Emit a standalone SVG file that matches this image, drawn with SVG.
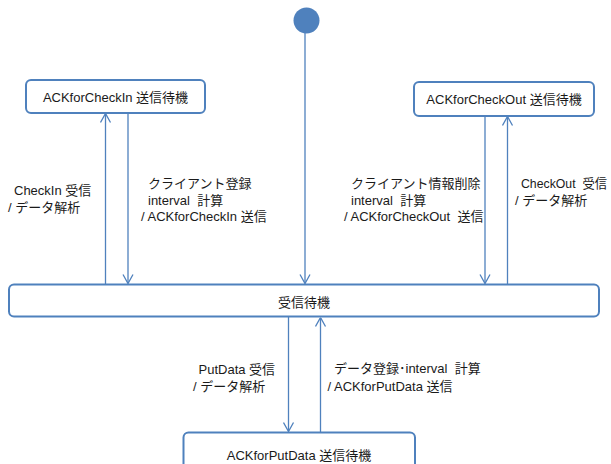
<svg xmlns="http://www.w3.org/2000/svg" width="611" height="464" viewBox="0 0 611 464">
<style>
.box{fill:#ffffff;stroke:#4f81bd;stroke-width:2}
.lbl{font-family:"Liberation Sans","Noto Sans CJK JP",sans-serif;font-size:13px;fill:#1a1a1a;white-space:pre}
.mid{text-anchor:middle}
.conn{stroke:#4f81bd;stroke-width:1.3;fill:none}
</style>
<defs>
<marker id="arr" viewBox="0 0 10 12" refX="10" refY="6" markerWidth="10" markerHeight="12" markerUnits="userSpaceOnUse" orient="auto">
<path d="M1,1 L10,6 L1,11" fill="none" stroke="#4f81bd" stroke-width="1.3"/>
</marker>
</defs>
<rect width="611" height="464" fill="#ffffff"/>
<g id="connectors">
<line class="conn" x1="305" y1="33" x2="305" y2="283.5" marker-end="url(#arr)"/>
<line class="conn" x1="105.5" y1="284" x2="105.5" y2="113.5" marker-end="url(#arr)"/>
<line class="conn" x1="128" y1="113" x2="128" y2="283.5" marker-end="url(#arr)"/>
<line class="conn" x1="485" y1="116" x2="485" y2="283.5" marker-end="url(#arr)"/>
<line class="conn" x1="507.5" y1="284" x2="507.5" y2="116.5" marker-end="url(#arr)"/>
<line class="conn" x1="288.5" y1="317" x2="288.5" y2="431.5" marker-end="url(#arr)"/>
<line class="conn" x1="320.5" y1="432" x2="320.5" y2="317.5" marker-end="url(#arr)"/>
</g>
<g id="start">
<circle cx="306.5" cy="20.5" r="13" fill="#4f81bd"/>
</g>
<g id="ackCheckIn">
<rect class="box" x="26" y="80" width="179" height="33" rx="5"/>
<text class="lbl mid" x="115.5" y="101.5">ACKforCheckIn 送信待機</text>
</g>
<g id="ackCheckOut">
<rect class="box" x="414" y="82" width="180" height="34" rx="5"/>
<text class="lbl mid" x="504" y="103.5">ACKforCheckOut 送信待機</text>
</g>
<g id="waiting">
<rect class="box" x="9" y="284.5" width="590" height="32" rx="5"/>
<text class="lbl mid" x="304" y="306.5">受信待機</text>
</g>
<g id="ackPutData">
<rect class="box" x="183.5" y="432.5" width="231.5" height="40" rx="5"/>
<text class="lbl mid" x="299" y="459.5">ACKforPutData 送信待機</text>
</g>
<g id="labels">
<text class="lbl" x="14" y="194.5">CheckIn 受信</text>
<text class="lbl" x="8" y="211.5">/ データ解析</text>
<text class="lbl" x="148" y="187.5">クライアント登録</text>
<text class="lbl" x="148" y="204.5" xml:space="preserve">interval  計算</text>
<text class="lbl" x="141" y="220.5">/ ACKforCheckIn 送信</text>
<text class="lbl" x="351" y="187.5">クライアント情報削除</text>
<text class="lbl" x="351" y="204.5" xml:space="preserve">interval  計算</text>
<text class="lbl" x="344" y="220.5" xml:space="preserve">/ ACKforCheckOut  送信</text>
<text class="lbl" x="521" y="187.5" textLength="86" lengthAdjust="spacingAndGlyphs" xml:space="preserve">CheckOut  受信</text>
<text class="lbl" x="515" y="204.5">/ データ解析</text>
<text class="lbl" x="198.5" y="373.5">PutData 受信</text>
<text class="lbl" x="193" y="391">/ データ解析</text>
<text class="lbl" x="334" y="373" xml:space="preserve">データ登録･interval  計算</text>
<text class="lbl" x="327.5" y="391">/ ACKforPutData 送信</text>
</g>
</svg>
